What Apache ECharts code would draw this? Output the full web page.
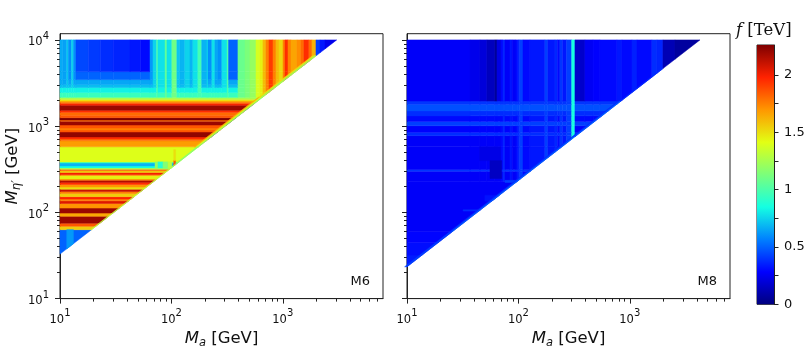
<!DOCTYPE html>
<html>
<head>
<meta charset="utf-8">
<style>html,body{margin:0;background:#fff}#chart{width:810px;height:354px}</style>
<script src="https://cdn.jsdelivr.net/npm/echarts@6/dist/echarts.min.js"></script>
</head>
<body>
<div id="chart"></div>
<script>
// jet colour scale of the colour bar
const fMax = 2.26
const jetStops = ['#00007f', '#0000ff', '#0080ff', '#14ffe2', '#7bff7b', '#e2ff14', '#ff9700', '#ff2200', '#7f0000']

const axisMin = 10
const xAxisMax = 7943
const yAxisMax = 11800
const majorTicks = [10, 100, 1000, 10000]
const minorTicks = [20, 30, 40, 50, 60, 70, 80, 90, 200, 300, 400, 500, 600, 700, 800, 900, 2000, 3000, 4000, 5000, 6000, 7000, 8000, 9000]
const barTicks = [0, 0.25, 0.5, 0.75, 1, 1.25, 1.5, 1.75, 2]
const barLabels = [0, 0.5, 1, 1.5, 2]

// M6: M_eta' / M_a lower limit, horizontal bands, then vertical bands
const ratio6 = 3.28
const rowEdges6 = [32.8, 63, 69, 75, 90, 98, 112, 127, 136, 143, 152, 166, 175, 186, 197, 211, 223, 235, 243, 268, 275, 290, 305, 316, 328, 346, 374, 385, 575, 675, 711, 750, 855, 902, 951, 1030, 1143, 1175, 1253, 1340, 1449, 1528, 1746, 1816, 1888, 1954, 2046, 2158, 2460, 2805, 3034, 3467, 4285, 10000]
const rowF6 = [0.5, 1.55, 1.85, 2.2, 1.65, 2.2, 1.7, 2.05, 1.75, 1.98, 1.55, 1.75, 2.1, 1.5, 1.7, 1.95, 2.15, 1.75, 1.45, 1.75, 2.0, 1.55, 1.85, 1.3, 0.85, 0.68, 0.95, 1.4, 1.68, 1.8, 1.95, 2.22, 1.85, 1.75, 1.85, 2.2, 1.8, 2.26, 1.85, 1.8, 1.95, 2.2, 2.0, 1.85, 1.7, 1.5, 1.25, 0.95, 0.82, 0.7, 0.65, 0.5, 0]
const colEdges6 = [10, 10.6, 11.5, 11.9, 12.7, 13.2, 13.9, 18, 23, 30, 42.5, 53, 64.3, 68.4, 73.8, 75.8, 87.7, 91.3, 101, 112, 119, 132, 147, 156, 173, 187, 209, 213, 231, 246, 262, 284, 316, 326, 396, 458, 508, 575, 624, 664, 706, 752, 817, 869, 925, 1005, 1047, 1114, 1186, 1341, 1455, 1549, 1718, 1829, 1987, 2160, 2395, 3070]
const colF6 = [0.66, 0.64, 0.72, 0.6, 0.75, 0.6, 0.44, 0.41, 0.38, 0.36, 0.33, 0.3, 0.62, 0.75, 1.0, 0.78, 1.05, 0.78, 1.1, 0.72, 0.68, 0.75, 0.68, 0.78, 0.98, 0.68, 0.78, 0.6, 0.78, 0.65, 0.6, 0.78, 1.0, 0.5, 1.08, 1.13, 1.2, 1.38, 1.45, 1.6, 1.75, 1.92, 1.75, 1.6, 1.52, 1.75, 1.95, 1.75, 1.66, 1.72, 1.8, 1.95, 1.8, 1.62, 0.42, 0.33, 0.24]
const colFromY6 = 2158
// [x0, x1, y0, y1, f]
const patches6 = [[11.5, 13.2, 32.8, 63, 0.62], [105, 109, 322, 400, 1.85], [105, 109, 400, 533, 1.5], [71.3, 75.8, 328, 385, 1.2], [75.8, 84, 328, 385, 0.9], [84, 93, 328, 385, 1.15], [93, 101, 328, 385, 1.3]]
// [y0, y1, ratio0, ratio1, f] along the diagonal edge
const edges6 = [[575, 2158, 1.05, 1.09, 1.62], [575, 2158, 1.015, 1.05, 1.4], [575, 2158, 1, 1.015, 1.15], [2158, 6560, 1.03, 1.08, 1.5], [2158, 6560, 1, 1.03, 1.2], [63, 385, 1, 1.02, 1.3], [385, 575, 1, 1.03, 1.15]]

// M8
const ratio8 = 2.34
const rowEdges8 = [23.4, 32, 45, 60, 229, 300, 314, 575, 776, 849, 1011, 1135, 1315, 1502, 1791, 1954, 10000]
const rowF8 = [0.34, 0.31, 0.29, 0.27, 0.27, 0.4, 0.27, 0.27, 0.38, 0.28, 0.42, 0.3, 0.38, 0.46, 0.4, 0]
const colEdges8 = [10, 36.8, 45.2, 52.2, 61.6, 64.3, 69.8, 72.8, 75.8, 84.1, 87.8, 95.2, 99.1, 103, 110, 127, 173, 184, 213, 224, 236, 250, 271, 301, 322, 396, 468, 540, 767, 851, 1047, 1161, 1581, 1754, 1986, 2547, 4266]
const colF8 = [0.27, 0.24, 0.2, 0.14, 0.06, 0.22, 0.3, 0.36, 0.27, 0.33, 0.27, 0.3, 0.36, 0.42, 0.3, 0.33, 0.42, 0.33, 0.37, 0.3, 0.4, 0.33, 0.42, 0.85, 0.17, 0.26, 0.28, 0.3, 0.33, 0.3, 0.35, 0.3, 0.38, 0.36, 0.12, 0.07]
const colFromY8 = 229
const patches8 = [[45, 69, 398, 575, 0.23], [55.6, 70.8, 247, 398, 0.15], [75.8, 103, 222, 235, 0.42], [31.9, 47, 103.5, 107, 0.38], [50, 70, 135, 158, 0.32]]
const edges8 = [[23.4, 60, 1, 1.05, 0.42], [60, 1954, 1.02, 1.06, 0.38], [60, 1954, 1, 1.02, 0.5], [1954, 4600, 1, 1.02, 0.38]]

// keep only the part of a cell above the line y = ratio * x
function clipCell(pts, ratio) {
    const side = p => Math.log10(p[1]) - Math.log10(ratio * p[0])
    const out = []
    pts.forEach((p, i) => {
        const q = pts[(i + 1) % pts.length]
        const a = side(p), b = side(q)
        if (a >= 0) out.push(p)
        if ((a >= 0) !== (b >= 0)) {
            const t = a / (a - b)
            out.push([
                Math.pow(10, Math.log10(p[0]) + t * (Math.log10(q[0]) - Math.log10(p[0]))),
                Math.pow(10, Math.log10(p[1]) + t * (Math.log10(q[1]) - Math.log10(p[1])))
            ])
        }
    })
    return out
}

function buildCells(rowEdges, rowF, colEdges, colF, colFromY, patches, edges, ratio) {
    const cells = []
    const add = (x0, x1, y0, y1, f) => {
        const pts = clipCell([[x0, y0], [x1, y0], [x1, y1], [x0, y1]], ratio)
        if (pts.length > 2) cells.push({ pts, f })
    }
    rowF.forEach((rf, r) => {
        const y0 = rowEdges[r], y1 = rowEdges[r + 1]
        if (y0 < colFromY) {
            add(10, colEdges[colEdges.length - 1], y0, y1, rf)
            return
        }
        colF.forEach((cf, c) => add(colEdges[c], colEdges[c + 1], y0, y1, Math.max(cf, rf)))
    })
    patches.forEach(p => add(p[0], p[1], p[2], p[3], p[4]))
    edges.forEach(e => {
        cells.push({
            pts: [[e[0] / (ratio * e[3]), e[0]], [e[0] / (ratio * e[2]), e[0]], [e[1] / (ratio * e[2]), e[1]], [e[1] / (ratio * e[3]), e[1]]],
            f: e[4]
        })
    })
    return cells
}

function cellSeries(cells, index) {
    return {
        type: 'custom',
        xAxisIndex: index * 2,
        yAxisIndex: index * 2,
        silent: true,
        data: cells.map(c => [c.pts[0][0], c.pts[0][1], c.f]),
        encode: { x: 0, y: 1 },
        renderItem(params, api) {
            const cell = cells[params.dataIndex]
            const color = echarts.color.lerp(cell.f / fMax, jetStops)
            return {
                type: 'polygon',
                shape: { points: cell.pts.map(p => api.coord(p)) },
                style: { fill: color, stroke: color, lineWidth: 0.5 }
            }
        }
    }
}

const lineColor = '#222'
const mathRich = {
    b: { fontFamily: 'DejaVu Sans', fontSize: 11.5, color: '#111', verticalAlign: 'bottom', lineHeight: 17 },
    p: { fontFamily: 'DejaVu Sans', fontSize: 10, color: '#111', verticalAlign: 'top', lineHeight: 17 },
    i: { fontFamily: 'DejaVu Sans', fontStyle: 'italic', fontSize: 16.5, color: '#111', verticalAlign: 'middle', lineHeight: 20 },
    s: { fontFamily: 'DejaVu Sans', fontStyle: 'italic', fontSize: 11.5, color: '#111', verticalAlign: 'bottom', lineHeight: 20 },
    n: { fontFamily: 'DejaVu Sans', fontSize: 16.5, color: '#111', verticalAlign: 'middle', lineHeight: 20 }
}
const powerLabel = val => '{b|10}{p|' + Math.round(Math.log10(val)) + '}'

// one panel gets a main log axis and a second one carrying the small ticks
function logAxes(gridIndex, position, max, showLabels, name, rotate) {
    const main = {
        type: 'log',
        logBase: 10,
        gridIndex,
        position,
        min: axisMin,
        max,
        splitLine: { show: false },
        axisLine: { show: true, lineStyle: { color: lineColor, width: 1 } },
        axisTick: { show: true, length: 5, inside: false, lineStyle: { color: lineColor }, customValues: majorTicks.filter(v => v <= max) },
        axisLabel: {
            show: showLabels,
            customValues: majorTicks.filter(v => v <= max),
            formatter: powerLabel,
            rich: mathRich,
            margin: rotate ? 11 : 10,
            hideOverlap: false
        },
        name,
        nameLocation: 'middle',
        nameRotate: rotate,
        nameGap: rotate ? 37 : 28,
        nameTextStyle: { rich: mathRich }
    }
    const minor = {
        type: 'log',
        logBase: 10,
        gridIndex,
        position,
        min: axisMin,
        max,
        splitLine: { show: false },
        axisLine: { show: false },
        axisLabel: { show: false },
        axisTick: { show: true, length: 3, lineStyle: { color: lineColor }, customValues: minorTicks.filter(v => v <= max) }
    }
    return [main, minor]
}

const nameMa = '{i|M}{s|a}{n| [GeV]}'
const nameMeta = '{i|M}{s|\u03b7\u2032}{n| [GeV]}'

const grids = [
    { left: 60, top: 33.7, width: 323, height: 268 },
    { left: 407, top: 33.7, width: 323, height: 268 },
    { left: 757, top: 45, width: 17, height: 259.3 }
].map(g => Object.assign({ show: true, borderColor: lineColor, borderWidth: 1, backgroundColor: 'transparent' }, g))

const cells6 = buildCells(rowEdges6, rowF6, colEdges6, colF6, colFromY6, patches6, edges6, ratio6)
const cells8 = buildCells(rowEdges8, rowF8, colEdges8, colF8, colFromY8, patches8, edges8, ratio8)

const chart = echarts.init(document.getElementById('chart'), null, { renderer: 'canvas' })
chart.setOption({
    animation: false,
    backgroundColor: '#fff',
    grid: grids,
    xAxis: [
        ...logAxes(0, 'bottom', xAxisMax, true, nameMa, 0),
        ...logAxes(1, 'bottom', xAxisMax, true, nameMa, 0),
        { type: 'category', gridIndex: 2, data: ['f'], show: false }
    ],
    yAxis: [
        ...logAxes(0, 'left', yAxisMax, true, nameMeta, 90),
        ...logAxes(1, 'left', yAxisMax, false, '', 90),
        {
            type: 'value',
            gridIndex: 2,
            position: 'right',
            min: 0,
            max: fMax,
            splitLine: { show: false },
            axisLine: { show: true, lineStyle: { color: lineColor } },
            axisTick: { show: true, length: 4.5, lineStyle: { color: lineColor }, customValues: barTicks },
            axisLabel: {
                customValues: barLabels,
                margin: 10,
                fontFamily: 'DejaVu Sans',
                fontSize: 13,
                color: '#111',
                formatter: val => String(val)
            }
        }
    ],
    series: [
        cellSeries(cells6, 0),
        cellSeries(cells8, 1),
        {
            type: 'bar',
            xAxisIndex: 4,
            yAxisIndex: 4,
            silent: true,
            barWidth: '100%',
            data: [fMax],
            itemStyle: {
                color: new echarts.graphic.LinearGradient(0, 1, 0, 0, jetStops.map((color, i) => ({ offset: i / (jetStops.length - 1), color })))
            }
        }
    ],
    graphic: [
        { type: 'text', right: 440, top: 275, style: { text: 'M6', fontFamily: 'DejaVu Sans', fontSize: 13, fill: '#111' } },
        { type: 'text', right: 93, top: 275, style: { text: 'M8', fontFamily: 'DejaVu Sans', fontSize: 13, fill: '#111' } },
        {
            type: 'text',
            left: 736,
            top: 22,
            style: {
                text: '{f|f}{t| [TeV]}',
                rich: {
                    f: { fontFamily: 'DejaVu Serif', fontStyle: 'italic', fontSize: 16.5, fill: '#111' },
                    t: { fontFamily: 'DejaVu Serif', fontSize: 16.5, fill: '#111' }
                }
            }
        }
    ]
})
</script>
</body>
</html>
